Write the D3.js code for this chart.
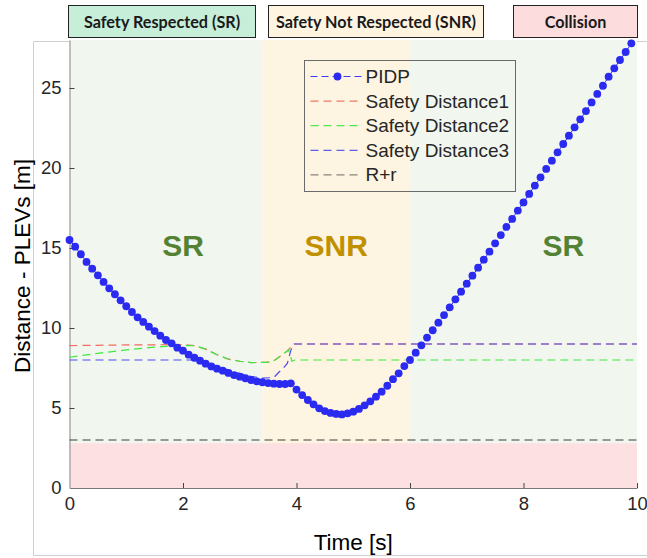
<!DOCTYPE html>
<html><head><meta charset="utf-8">
<script src="https://cdn.jsdelivr.net/npm/d3@7"></script>
<style>html,body{margin:0;padding:0;background:#fff;}svg{display:block;}</style>
</head><body>
<script>
// ---------- DATA ----------
const pidpTime = [0.0,0.1,0.2,0.3,0.4,0.5,0.6,0.7,0.8,0.9,1.0,1.1,1.2,1.3,1.4,1.5,1.6,1.7,1.8,1.9,
 2.0,2.1,2.2,2.3,2.4,2.5,2.6,2.7,2.8,2.9,3.0,3.1,3.2,3.3,3.4,3.5,3.6,3.7,3.8,3.9,
 4.0,4.1,4.2,4.3,4.4,4.5,4.6,4.7,4.8,4.9,5.0,5.1,5.2,5.3,5.4,5.5,5.6,5.7,5.8,5.9,
 6.0,6.1,6.2,6.3,6.4,6.5,6.6,6.7,6.8,6.9,7.0,7.1,7.2,7.3,7.4,7.5,7.6,7.7,7.8,7.9,
 8.0,8.1,8.2,8.3,8.4,8.5,8.6,8.7,8.8,8.9,9.0,9.1,9.2,9.3,9.4,9.5,9.6,9.7,9.8,9.9];
const pidpValues = [15.50,15.08,14.61,14.13,13.71,13.29,12.88,12.48,12.11,11.73,
 11.36,11.00,10.67,10.38,10.08,9.81,9.52,9.25,9.04,8.77,
 8.58,8.33,8.14,7.96,7.77,7.60,7.46,7.33,7.19,7.06,
 6.96,6.86,6.75,6.67,6.61,6.56,6.52,6.50,6.50,6.54,
 6.15,5.81,5.50,5.23,4.98,4.81,4.69,4.63,4.60,4.67,
 4.77,4.94,5.17,5.42,5.71,6.02,6.39,6.80,7.17,7.62,
 8.00,8.46,8.92,9.40,9.86,10.33,10.81,11.29,11.79,12.27,
 12.77,13.27,13.77,14.27,14.77,15.29,15.81,16.32,16.82,17.34,
 17.85,18.38,18.90,19.42,19.94,20.46,20.98,21.50,22.02,22.54,
 23.04,23.56,24.10,24.63,25.14,25.71,26.23,26.75,27.25,27.79];

const sd1Time   = [0, 1.0, 2.0, 2.2, 2.4, 2.6, 2.8, 3.0, 3.2, 3.45, 3.55, 3.62, 3.72, 3.82, 3.88, 3.94, 10];
const sd1Values = [8.90, 8.94, 8.96, 8.90, 8.68, 8.33, 8.05, 7.92, 7.84, 7.85, 7.88, 8.00, 8.25, 8.52, 8.72, 9.00, 9.00];

const sd2Time   = [0, 0.5, 1.0, 1.5, 1.8, 2.2, 2.4, 2.6, 2.8, 3.0, 3.2, 3.45, 3.55, 3.62, 3.72, 3.82, 3.86, 3.92, 3.97, 10];
const sd2Values = [8.17, 8.42, 8.63, 8.80, 8.88, 8.90, 8.68, 8.33, 8.05, 7.92, 7.84, 7.85, 7.88, 8.00, 8.25, 8.52, 8.63, 7.92, 8.00, 8.00];

const sd3Time   = [0, 2.2, 2.4, 2.6, 2.8, 3.0, 3.2, 3.4, 3.6, 3.68, 3.77, 3.84, 3.9, 3.96, 10];
const sd3Values = [8.00, 8.00, 7.85, 7.62, 7.38, 7.16, 6.98, 6.87, 6.90, 7.20, 7.50, 7.80, 8.60, 9.00, 9.00];

const rrTime   = [0, 10];
const rrValues = [3, 3];

const xTicks = [0, 2, 4, 6, 8, 10];
const yTicks = [0, 5, 10, 15, 20, 25];

const legendLabels = ["PIDP", "Safety Distance1", "Safety Distance2", "Safety Distance3", "R+r"];
const headerLabels = ["Safety Respected (SR)", "Safety Not Respected (SNR)", "Collision"];
// zones: [start, end] in time; collision band in distance
const srZones  = [[0, 3.4], [6, 10]];
const snrZone  = [3.4, 6];
const collisionBand = [0, 2.8];
const zoneLabels = [{t: 2.0, v: 14.5, text: "SR", kind: "sr"},
                    {t: 4.7, v: 14.5, text: "SNR", kind: "snr"},
                    {t: 8.7, v: 14.5, text: "SR", kind: "sr"}];

// ---------- LAYOUT ----------
const W = 647, H = 558;
const M = {left: 69.5, right: 637, top: 40, bottom: 488};
const axisFont = "'Liberation Sans', Arial, sans-serif";
const textCol = "#262626";

const svg = d3.select("body").append("svg").attr("width", W).attr("height", H);

const x = d3.scaleLinear().domain([0, 10]).range([M.left, M.right]);
const y = d3.scaleLinear().domain([0, 28]).range([M.bottom, M.top]);

// outer light frame
svg.append("path")
  .attr("d", `M${W},41.5 H33.5 V555.5 H${W}`)
  .attr("fill", "none").attr("stroke", "#cfcfcf").attr("stroke-width", 1);

// backgrounds
svg.selectAll("rect.sr").data(srZones).join("rect").attr("class", "sr")
  .attr("x", d => x(d[0])).attr("width", d => x(d[1]) - x(d[0]))
  .attr("y", y(28)).attr("height", y(0) - y(28)).attr("fill", "#f1f6ef");
svg.append("rect")
  .attr("x", x(snrZone[0])).attr("width", x(snrZone[1]) - x(snrZone[0]))
  .attr("y", y(28)).attr("height", y(0) - y(28)).attr("fill", "#fdf5e1");
svg.append("rect")
  .attr("x", x(0)).attr("width", x(10) - x(0))
  .attr("y", y(collisionBand[1])).attr("height", y(collisionBand[0]) - y(collisionBand[1]))
  .attr("fill", "#fde0e1");

// zone labels
svg.selectAll("text.zone").data(zoneLabels).join("text").attr("class", "zone")
  .attr("x", d => x(d.t)).attr("y", d => y(d.v))
  .attr("text-anchor", "middle")
  .attr("font-family", axisFont).attr("font-weight", "bold").attr("font-size", 30)
  .attr("fill", d => d.kind === "sr" ? "#548235" : "#c09000")
  .text(d => d.text);

// axes
const xAxis = d3.axisBottom(x).tickValues(xTicks).tickSizeInner(-5).tickSizeOuter(0).tickPadding(9);
const yAxis = d3.axisLeft(y).tickValues(yTicks).tickSizeInner(-5).tickSizeOuter(0).tickPadding(8);
const gx = svg.append("g").attr("transform", `translate(0,${M.bottom})`).call(xAxis);
const gy = svg.append("g").attr("transform", `translate(${M.left},0)`).call(yAxis);
[gx, gy].forEach(g => {
  g.select(".domain").attr("stroke", "#7a7a7a").attr("stroke-width", 1.2);
  g.selectAll(".tick line").attr("stroke", "#444");
  g.selectAll(".tick text").attr("font-family", axisFont).attr("font-size", 18.5).attr("fill", textCol);
});
gy.select(".domain").attr("stroke", "#9a9a9a");
gx.selectAll(".tick").filter(d => d === 0).select("line").remove();
gy.selectAll(".tick").filter(d => d === 0).select("line").remove();

// axis titles
svg.append("text").attr("x", (M.left + M.right) / 2).attr("y", 550)
  .attr("text-anchor", "middle").attr("font-family", axisFont).attr("font-size", 22.5)
  .attr("fill", "#000").text("Time [s]");
svg.append("text").attr("transform", `translate(30,266) rotate(-90)`)
  .attr("text-anchor", "middle").attr("font-family", axisFont).attr("font-size", 22.5)
  .attr("fill", "#000").text("Distance - PLEVs [m]");

// lines
const line = d3.line().x(d => x(d[0])).y(d => y(d[1]));
const zip = (a, b) => a.map((t, i) => [t, b[i]]);
const series = [
  {t: sd1Time, v: sd1Values, color: "#f26b5e", dash: "8,5"},
  {t: sd2Time, v: sd2Values, color: "#3ee83e", dash: "8,5"},
  {t: sd3Time, v: sd3Values, color: "#4d4df0", dash: "8,5"},
  {t: rrTime,  v: rrValues,  color: "#3c3c3c", dash: "8,5"}
];
const plotG = svg.append("g");
series.forEach(s => {
  plotG.append("path").attr("d", line(zip(s.t, s.v)))
    .attr("fill", "none").attr("stroke", s.color).attr("stroke-width", 1.2)
    .attr("stroke-dasharray", s.dash);
});
const pidp = zip(pidpTime, pidpValues);
plotG.append("path").attr("d", line(pidp)).attr("fill", "none")
  .attr("stroke", "#2a2af0").attr("stroke-width", 1).attr("stroke-dasharray", "6,3");
plotG.selectAll("circle.pidp").data(pidp).join("circle").attr("class", "pidp")
  .attr("cx", d => x(d[0])).attr("cy", d => y(d[1])).attr("r", 3.9).attr("fill", "#2a2af0");

// legend
const lg = svg.append("g").attr("transform", "translate(304.5,60.5)");
lg.append("rect").attr("width", 211).attr("height", 131).attr("fill", "none")
  .attr("stroke", "#6a6a6a").attr("stroke-width", 1);
const legColors = ["#2a2af0", "#f26b5e", "#3ee83e", "#4d4df0", "#3c3c3c"];
legendLabels.forEach((lab, i) => {
  const yy = 16 + i * 24.6;
  lg.append("line").attr("x1", 6).attr("x2", 58).attr("y1", yy).attr("y2", yy)
    .attr("stroke", legColors[i]).attr("stroke-width", i === 0 ? 1 : 1.2)
    .attr("stroke-dasharray", i === 0 ? "7,4" : "8,5").attr("opacity", i === 4 ? 0.6 : 0.9);
  if (i === 0) lg.append("circle").attr("cx", 33).attr("cy", yy).attr("r", 3.9).attr("fill", legColors[0]);
  lg.append("text").attr("x", 61).attr("y", yy + 6.5).attr("font-family", axisFont)
    .attr("font-size", 19).attr("fill", textCol).text(lab);
});

// header boxes
const headerBoxes = [{x0: 68.5, x1: 255.5, fill: "#c6eed9"}, {x0: 268.5, x1: 483.5, fill: "#fff4e0"}, {x0: 513.5, x1: 637.5, fill: "#fddcdd"}];
headerBoxes.forEach((b, i) => {
  svg.append("rect").attr("x", b.x0).attr("y", 5.5).attr("width", b.x1 - b.x0).attr("height", 32)
    .attr("fill", b.fill).attr("stroke", "#222").attr("stroke-width", 1);
  svg.append("text").attr("x", (b.x0 + b.x1) / 2).attr("y", 27.5)
    .attr("text-anchor", "middle").attr("font-family", "Lato, 'Open Sans', sans-serif")
    .attr("font-weight", "bold").attr("font-size", 16.2).attr("fill", "#1a1a1a").text(headerLabels[i]);
});
</script>
</body></html>
